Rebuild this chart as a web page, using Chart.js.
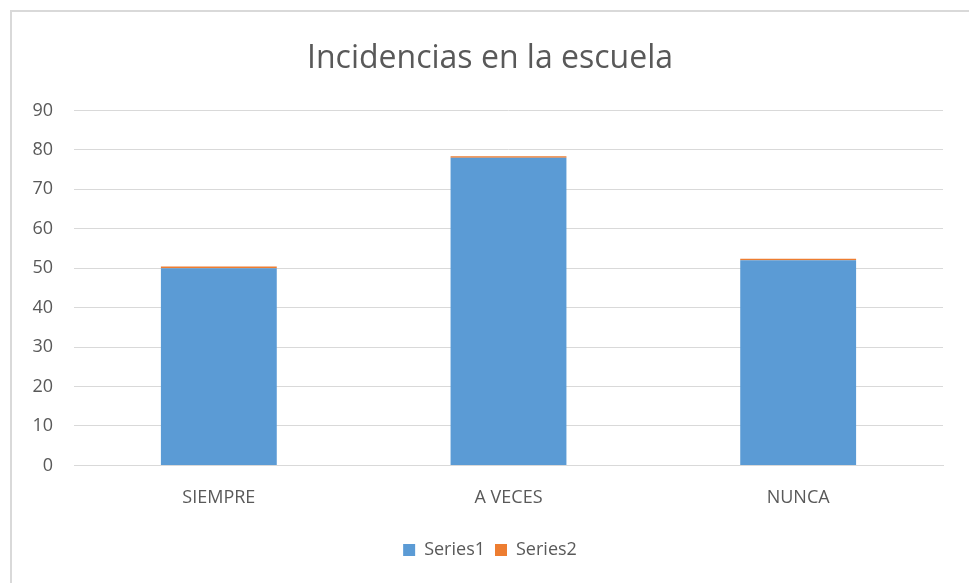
<!DOCTYPE html>
<html>
<head>
<meta charset="utf-8">
<title>Incidencias en la escuela</title>
<script src="https://cdn.jsdelivr.net/npm/chart.js@4.4.0/dist/chart.umd.min.js"></script>
<style>
    html, body { margin: 0; padding: 0; background: #fff; }
    #wrap { position: relative; width: 969px; height: 583px; }
    #frame {
        position: absolute; left: 10px; top: 10px; right: 0; bottom: 0;
        border-left: 2px solid #d9d9d9; border-top: 2px solid #d9d9d9;
        pointer-events: none;
    }
</style>
</head>
<body>
<div id="wrap">
    <canvas id="incidenciasChart" width="969" height="583"></canvas>
    <div id="frame"></div>
</div>
<script>
const categorias = ['SIEMPRE', 'A VECES', 'NUNCA'];
const series1 = [50, 78, 52];
const series2 = [0.4, 0.4, 0.4];
const ticksY = [0, 10, 20, 30, 40, 50, 60, 70, 80, 90];

const gris = '#595959';
const fuente = "'Open Sans', 'Noto Sans', sans-serif";

const ctx = document.getElementById('incidenciasChart');

const incidenciasChart = new Chart(ctx, {
    type: 'bar',
    data: {
        labels: categorias,
        datasets: [{
            label: 'Series1',
            data: series1,
            backgroundColor: '#5b9bd5',
            barPercentage: 0.4,
            categoryPercentage: 1
        }, {
            label: 'Series2',
            data: series2,
            backgroundColor: '#ed7d31',
            barPercentage: 0.4,
            categoryPercentage: 1
        }]
    },
    options: {
        responsive: false,
        animation: false,
        layout: { padding: { left: 11, right: 0, top: 0, bottom: 14 } },
        plugins: {
            title: {
                display: true,
                text: 'Incidencias en la escuela',
                color: gris,
                font: { family: fuente, size: 32, weight: 'normal' },
                padding: { top: 40, bottom: 32 }
            },
            legend: {
                position: 'bottom',
                labels: {
                    color: gris,
                    font: { family: fuente, size: 18 },
                    boxWidth: 12,
                    boxHeight: 12,
                    padding: 10
                }
            },
            tooltip: { enabled: false }
        },
        scales: {
            x: {
                stacked: true,
                grid: { display: false, drawTicks: false },
                border: { color: '#d9d9d9', width: 1 },
                ticks: { color: gris, font: { family: fuente, size: 18 }, padding: 22 }
            },
            y: {
                stacked: true,
                min: 0,
                max: 90,
                afterBuildTicks: function (axis) {
                    axis.ticks = ticksY.map(v => ({ value: v }));
                },
                afterFit: function (axis) {
                    axis.width = 63;
                },
                grid: { color: '#d9d9d9', drawTicks: false },
                border: { display: false },
                ticks: { color: gris, font: { family: fuente, size: 18 }, padding: 21 }
            },
            // eixo vazio so para deixar a margem direita
            margemDireita: {
                position: 'right',
                display: true,
                grid: { display: false, drawTicks: false },
                border: { display: false },
                ticks: { display: false },
                afterFit: function (axis) {
                    axis.width = 26;
                }
            }
        }
    }
});
</script>
</body>
</html>
